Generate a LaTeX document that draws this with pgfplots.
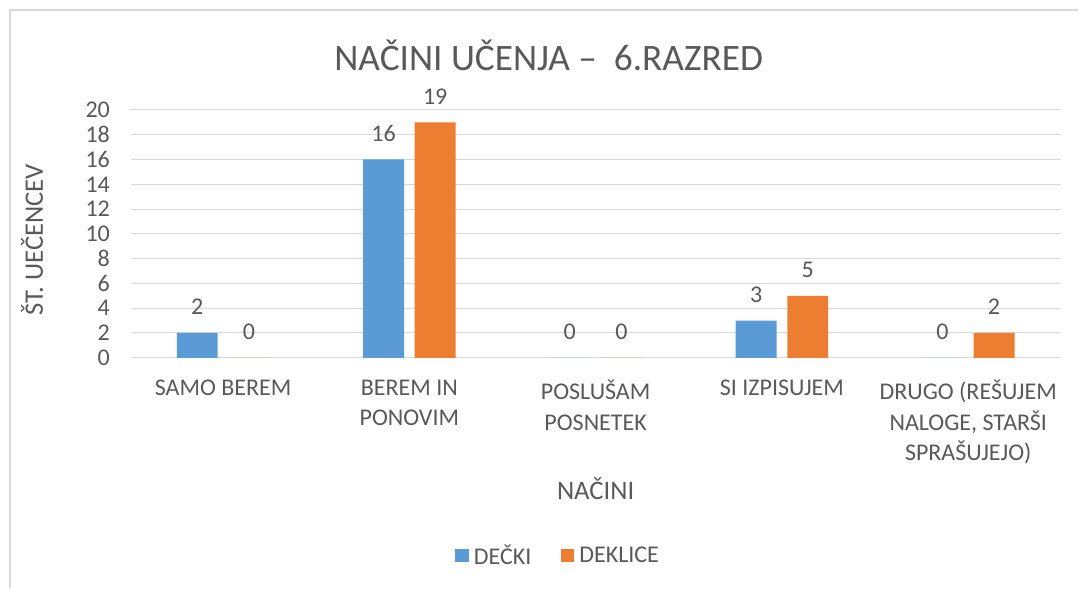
\documentclass[border=0pt]{standalone}
\usepackage{fontspec}
\setmainfont{Carlito}
\usepackage{pgfplots}
\pgfplotsset{compat=1.18}
\definecolor{blu}{HTML}{5B9BD5}
\definecolor{org}{HTML}{ED7D31}
\definecolor{txt}{HTML}{595959}
\definecolor{grd}{HTML}{D9D9D9}
\begin{document}
\begin{tikzpicture}
\path (0pt,0pt) rectangle (809.25pt,441pt);
\draw[grd, line width=1pt] (7.5pt,0pt) -- (7.5pt,433.5pt) -- (809.25pt,433.5pt);
\node[txt, font=\fontsize{28}{34}\selectfont] at (411.75pt,399.75pt) {NAČINI UČENJA –\ \ 6.RAZRED};
\begin{axis}[
  at={(97.5pt,172.5pt)}, anchor=south west,
  scale only axis, width=699pt, height=186pt,
  ybar=8pt, bar width=30.75pt,
  xmin=-0.5, xmax=4.5, ymin=0, ymax=20,
  ytick={0,2,...,20},
  xtick={0,...,4},
  xticklabels={SAMO BEREM, {BEREM IN\\PONOVIM}, {POSLUŠAM\\POSNETEK}, SI IZPISUJEM, {DRUGO (REŠUJEM\\NALOGE, STARŠI\\SPRAŠUJEJO)}},
  xticklabel style={align=center, yshift=-13pt, font=\fontsize{18}{23}\selectfont},
  yticklabel style={xshift=-11.5pt},
  major tick length=0pt,
  /pgf/number format/assume math mode=true,
  tick label style={font=\fontsize{18}{22.5}\selectfont, text=txt},
  axis line style={white, line width=0.1pt},
  tick style={white, line width=0.1pt},
  ymajorgrids, grid style={grd, line width=0.75pt},
  xlabel={NAČINI},
  xlabel style={at={(rel axis cs:0.5,-0.53)}, anchor=center, font=\fontsize{20}{24}\selectfont, text=txt},
  ylabel={ŠT. UEČENCEV},
  ylabel style={at={(rel axis cs:-0.105,0.476)}, anchor=center, font=\fontsize{20}{24}\selectfont, text=txt},
  nodes near coords,
  every node near coord/.append style={font=\fontsize{18}{22.5}\selectfont, text=txt, yshift=10pt},
  legend style={at={(rel axis cs:0.46,-0.798)}, anchor=center, draw=none, legend columns=2,
    font=\fontsize{18}{22.5}\selectfont, text=txt,
    /tikz/every even column/.append style={column sep=20pt},
    /tikz/every odd column/.append style={column sep=2pt}},
  legend image code/.code={\fill[#1] (0pt,-5pt) rectangle (10pt,5pt);},
]
\addplot[draw=none, fill=blu] coordinates {(0,2) (1,16) (2,0) (3,3) (4,0)};
\addlegendentry{DEČKI}
\addplot[draw=none, fill=org] coordinates {(0,0) (1,19) (2,0) (3,5) (4,2)};
\addlegendentry{DEKLICE}
\end{axis}
\end{tikzpicture}
\end{document}
